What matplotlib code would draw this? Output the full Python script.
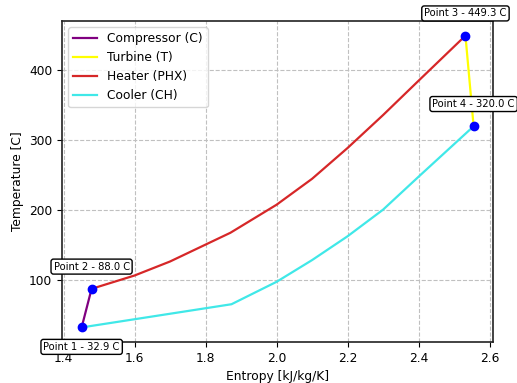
import matplotlib
matplotlib.use("Agg")
import matplotlib.pyplot as plt

# state points (entropy kJ/kg/K, temperature C)
point_s = [1.451, 1.479, 2.532, 2.555]
point_T = [32.9, 88.0, 449.3, 320.0]
point_names = ["Point 1", "Point 2", "Point 3", "Point 4"]

# heater path: point 2 -> point 3
heater_s = [1.479, 1.6, 1.7, 1.87, 2.0, 2.1, 2.2, 2.3, 2.4, 2.532]
heater_T = [88.0, 107, 127, 168, 208, 245, 289, 336, 385, 449.3]

# cooler path: point 4 -> point 1
cooler_s = [2.555, 2.4, 2.3, 2.2, 2.1, 2.0, 1.873, 1.451]
cooler_T = [320.0, 248, 201, 163, 129, 98, 66, 32.9]

plt.rcParams["font.size"] = 8.8

fig = plt.figure(figsize=(5.17, 3.83), dpi=100)
ax = fig.add_axes([0.12, 0.107, 0.834, 0.838])

ax.plot(point_s[0:2], point_T[0:2], color="purple", lw=1.6, label="Compressor (C)")
ax.plot(point_s[2:4], point_T[2:4], color="yellow", lw=1.6, label="Turbine (T)")
ax.plot(heater_s, heater_T, color="tab:red", lw=1.6, label="Heater (PHX)")
ax.plot(cooler_s, cooler_T, color="#40e8e8", lw=1.6, label="Cooler (CH)")
ax.plot(point_s, point_T, "o", color="blue", ms=6, zorder=5)

offsets = [(0, -14), (0, 16), (0, 16), (0, 16)]
for s, T, name, off in zip(point_s, point_T, point_names, offsets):
    ax.annotate(f"{name} - {T:.1f} C", (s, T), xytext=off, textcoords="offset points",
                ha="center", va="center", fontsize=7.2, zorder=10, annotation_clip=False,
                bbox=dict(boxstyle="round,pad=0.25", fc="white", ec="black", lw=1))

for sp in ax.spines.values():
    sp.set_linewidth(1.2)
    sp.set_color("#222222")

ax.set_xlabel("Entropy [kJ/kg/K]")
ax.set_ylabel("Temperature [C]")
ax.grid(True, linestyle="--", color="#c0c0c0", lw=0.8)
ax.legend(loc="upper left", fontsize=8.8)

fig.savefig("out.png")
